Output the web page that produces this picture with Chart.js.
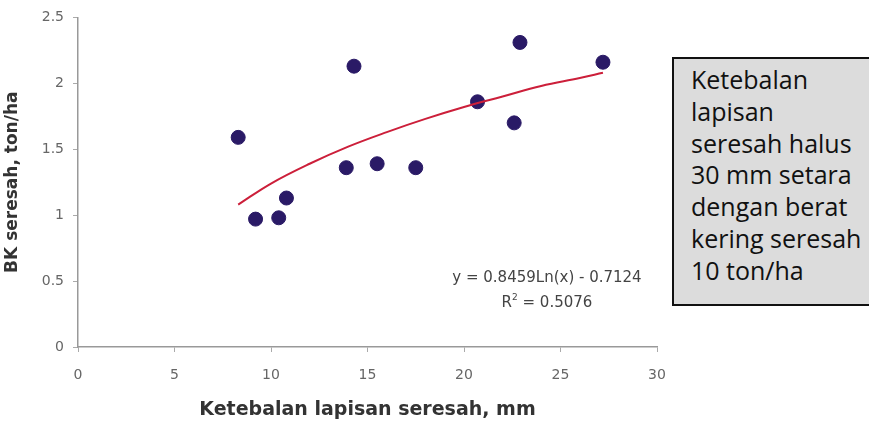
<!DOCTYPE html>
<html lang="id">
<head>
  <meta charset="UTF-8">
  <title>BK seresah vs ketebalan lapisan seresah</title>
  <script src="https://cdn.jsdelivr.net/npm/chart.js"></script>
  <style>
    html, body { margin: 0; padding: 0; background: #fff; }
    #wrap { position: relative; width: 869px; height: 421px; overflow: hidden; }
    #chart { position: absolute; left: 0; top: 0; }
    #note {
      position: absolute; left: 672px; top: 57px; width: 230px; height: 249px;
      background: #dcdcdc; border: 2px solid #111; box-sizing: border-box;
      padding: 5px 0 0 17px;
      font-family: "Open Sans", sans-serif; font-size: 25px; line-height: 31.8px; color: #111;
    }
  </style>
</head>
<body>
<div id="wrap">
  <canvas id="chart" width="869" height="421"></canvas>
  <div id="note">Ketebalan<br>lapisan<br>seresah halus<br>30 mm setara<br>dengan berat<br>kering seresah<br>10 ton/ha</div>
</div>

<script>
  // data titik (tebal lapisan mm, BK ton/ha)
  const tebal = [8.3, 9.2, 10.4, 10.8, 13.9, 14.3, 15.5, 17.5, 20.7, 22.6, 22.9, 27.2];
  const bk = [1.59, 0.97, 0.98, 1.13, 1.36, 2.13, 1.39, 1.36, 1.86, 1.70, 2.31, 2.16];

  // garis trend (logaritmik)
  const trendX = [8.3, 10, 12, 14, 16, 18, 20, 22, 24, 26, 27.2];
  const trendY = [1.08, 1.24, 1.39, 1.52, 1.63, 1.73, 1.82, 1.90, 1.98, 2.04, 2.08];

  const eqText = ['y = 0.8459Ln(x) - 0.7124', 'R', '2', ' = 0.5076'];

  const xTicks = [0, 5, 10, 15, 20, 25, 30];
  const yTicks = [0, 0.5, 1, 1.5, 2, 2.5];

  const eqPlugin = {
    id: 'eq',
    afterDraw(chart) {
      const c = chart.ctx;
      const x = chart.scales.x.getPixelForValue(24.3);
      const y1 = chart.scales.y.getPixelForValue(0.52);
      const y2 = chart.scales.y.getPixelForValue(0.33);
      c.save();
      c.fillStyle = '#444';
      c.font = '15px "DejaVu Sans", sans-serif';
      c.textBaseline = 'middle';
      c.textAlign = 'center';
      c.fillText(eqText[0], x, y1);
      // R² dengan superscript
      const wR = c.measureText(eqText[1]).width;
      const wRest = c.measureText(eqText[3]).width;
      c.font = '9px "DejaVu Sans", sans-serif';
      const wSup = c.measureText(eqText[2]).width;
      const start = x - (wR + wSup + wRest) / 2;
      c.textAlign = 'left';
      c.fillText(eqText[2], start + wR, y2 - 6);
      c.font = '15px "DejaVu Sans", sans-serif';
      c.fillText(eqText[1], start, y2);
      c.fillText(eqText[3], start + wR + wSup, y2);
      c.restore();
    }
  };

  new Chart(document.getElementById('chart'), {
    type: 'scatter',
    data: {
      datasets: [{
        label: 'Trend',
        type: 'line',
        data: trendX.map((x, i) => ({ x: x, y: trendY[i] })),
        borderColor: '#cc1f3a',
        borderWidth: 2,
        pointRadius: 0,
        tension: 0.4,
        fill: false
      }, {
        label: 'BK seresah',
        data: tebal.map((x, i) => ({ x: x, y: bk[i] })),
        backgroundColor: '#2a1a66',
        borderColor: '#2a1a66',
        pointRadius: 7,
        pointHoverRadius: 7
      }]
    },
    options: {
      responsive: false,
      animation: false,
      layout: { padding: { left: 0, right: 212, top: 15, bottom: 0 } },
      plugins: { legend: { display: false }, tooltip: { enabled: false } },
      scales: {
        x: {
          type: 'linear', min: 0, max: 30,
          afterBuildTicks: s => { s.ticks = xTicks.map(v => ({ value: v })); },
          afterFit: s => { s.height = 74; },
          grid: { drawOnChartArea: false, drawTicks: true, tickLength: 5, color: '#aaa' },
          border: { color: '#999', width: 1.5 },
          ticks: { color: '#666', font: { family: '"DejaVu Sans"', size: 14 }, padding: 15,
                   callback: v => String(v) },
          title: { display: true, text: 'Ketebalan lapisan seresah, mm', color: '#333',
                   font: { family: '"DejaVu Sans"', size: 19, weight: 'bold' }, padding: { top: 0, bottom: 0 } }
        },
        y: {
          type: 'linear', min: 0, max: 2.5,
          afterBuildTicks: s => { s.ticks = yTicks.map(v => ({ value: v })); },
          afterFit: s => { s.width = 78; },
          grid: { drawOnChartArea: false, drawTicks: true, tickLength: 5, color: '#aaa' },
          border: { color: '#999', width: 1.5 },
          ticks: { color: '#666', font: { family: '"DejaVu Sans"', size: 14 }, padding: 9,
                   callback: v => String(v) },
          title: { display: true, text: 'BK seresah, ton/ha', color: '#333',
                   font: { family: '"DejaVu Sans"', size: 17, weight: 'bold' }, padding: { top: 2, bottom: 2 } }
        }
      }
    },
    plugins: [eqPlugin]
  });
</script>
</body>
</html>
